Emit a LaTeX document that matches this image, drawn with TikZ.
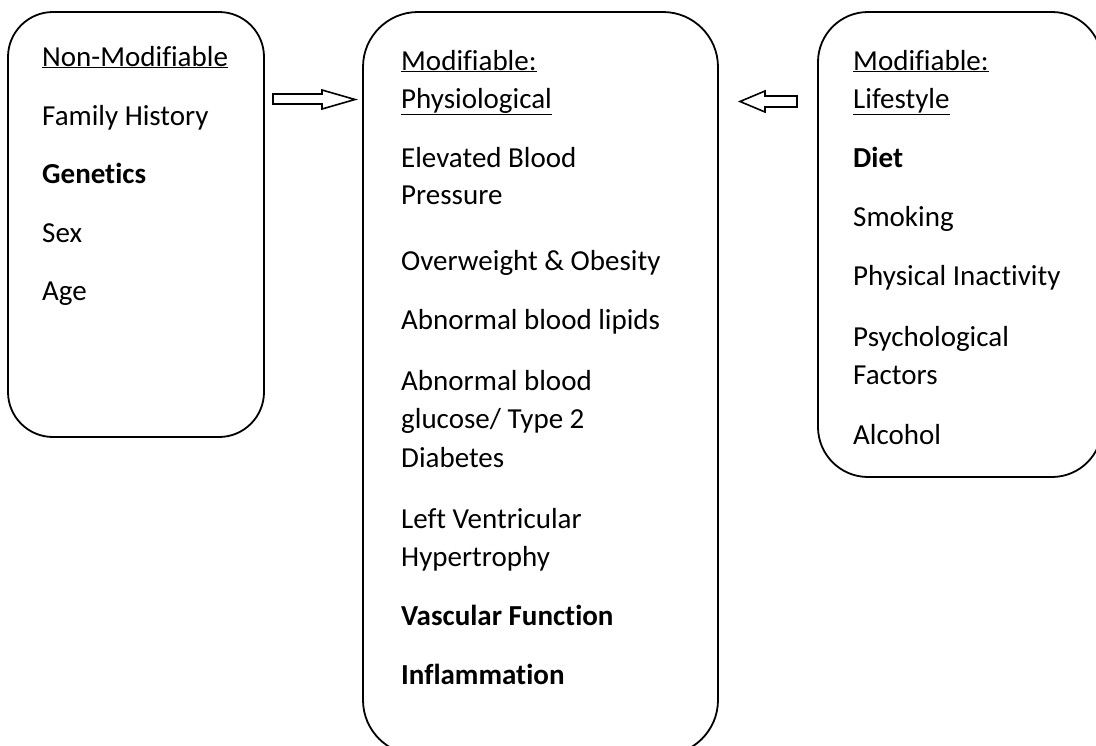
\documentclass[tikz,border=0pt]{standalone}
\usepackage{fontspec}
\setmainfont[Ligatures=NoCommon]{Carlito}
\begin{document}
\begin{tikzpicture}[x=1pt,y=-1pt,
  box/.style={draw=black, line width=1.8pt, rounded corners=#1},
  txt/.style={anchor=base west, inner sep=0pt, font=\fontsize{29}{35}\selectfont},
  btxt/.style={txt, font=\fontsize{29}{35}\selectfont\bfseries},
  arr/.style={draw=black, line width=1.6pt, fill=white, line join=miter}]
\useasboundingbox (0,0) rectangle (1096,745);
\begin{scope}
\clip (0,0) rectangle (1096,745);
\draw[box=45] (8,12) rectangle (264,437);
\draw[box=55] (363,12) rectangle (718,755);
\draw[box=50] (818,12) rectangle (1102,477);
\end{scope}
% arrows
\draw[arr] (273,94) -- (322,94) -- (322,90) -- (355,99.5) -- (322,109) -- (322,104) -- (273,104) -- cycle;
\draw[arr] (797,96) -- (765,96) -- (765,91) -- (740,101.5) -- (765,112) -- (765,107) -- (797,107) -- cycle;
% left
\node[txt] (l1) at (42,66) {\underline{Non-Modifiable}};
\node[txt] (l2) at (42,125) {Family History};
\node[btxt] (l3) at (42,183) {Genetics};
\node[txt] (l4) at (42,242) {Sex};
\node[txt] (l5) at (42,300) {Age};
% middle
\node[txt] (m1) at (401,70) {\underline{Modifiable:}};
\node[txt] (m2) at (401,108) {\underline{Physiological}};
\node[txt] (m3) at (401,167) {Elevated Blood};
\node[txt] (m4) at (401,204) {Pressure};
\node[txt] (m5) at (401,270) {Overweight \& Obesity};
\node[txt] (m6) at (401,329) {Abnormal blood lipids};
\node[txt] (m7) at (401,390) {Abnormal blood};
\node[txt] (m8) at (401,428) {glucose/ Type 2};
\node[txt] (m9) at (401,467) {Diabetes};
\node[txt] (m10) at (401,528) {Left Ventricular};
\node[txt] (m11) at (401,566) {Hypertrophy};
\node[btxt] (m12) at (401,625) {Vascular Function};
\node[btxt] (m13) at (401,684) {Inflammation};
% right
\node[txt] (r1) at (853,70) {\underline{Modifiable:}};
\node[txt] (r2) at (853,108) {\underline{Lifestyle}};
\node[btxt] (r3) at (853,167) {Diet};
\node[txt] (r4) at (853,226) {Smoking};
\node[txt] (r5) at (853,285) {Physical Inactivity};
\node[txt] (r6) at (853,346) {Psychological};
\node[txt] (r7) at (853,384) {Factors};
\node[txt] (r8) at (853,444) {Alcohol};
\end{tikzpicture}
\end{document}
